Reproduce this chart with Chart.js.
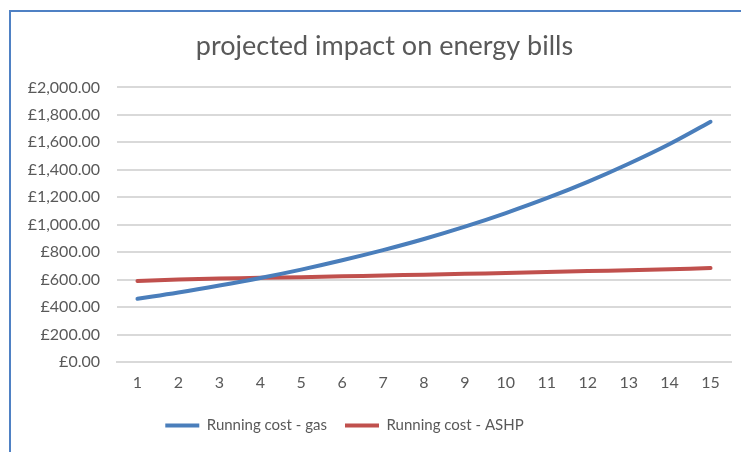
<!DOCTYPE html>
<html>
<head>
<meta charset="utf-8">
<script src="https://cdn.jsdelivr.net/npm/chart.js@4"></script>
<style>
    html, body { margin: 0; padding: 0; background: #fff; }
    #wrap { position: relative; width: 741px; height: 452px; }
    #frame { position: absolute; left: 9px; top: 10px; right: 0; bottom: 0;
             border-top: 2px solid #4f81c4; border-left: 2px solid #4f81c4; }
    #chart { position: absolute; left: 0; top: 0; }
</style>
</head>
<body>
<div id="wrap">
    <div id="frame"></div>
    <canvas id="chart" width="741" height="452"></canvas>
</div>
<script>
const years = ['1', '2', '3', '4', '5', '6', '7', '8', '9', '10', '11', '12', '13', '14', '15'];
const gasCost = [460, 506, 557, 612, 673, 741, 815, 896, 986, 1085, 1193, 1312, 1444, 1588, 1750];
const ashpCost = [590, 600, 608, 613, 618, 624, 630, 636, 642, 648, 655, 662, 668, 675, 684];
const yTicks = [0, 200, 400, 600, 800, 1000, 1200, 1400, 1600, 1800, 2000];

const textColor = '#595959';
const gridColor = '#d9d9d9';

function money(v) {
    return '£' + v.toLocaleString('en-GB', { minimumFractionDigits: 2, maximumFractionDigits: 2 });
}

// excel centres the title on the plot and pushes the legend a bit left / down
const nudgeBoxes = {
    id: 'nudgeBoxes',
    afterLayout(chart) {
        const lg = chart.legend;
        lg.left -= 27;
        lg.right -= 27;
        lg.top += 8;
        lg.bottom += 8;
        const tb = chart.titleBlock;
        tb.left += 13;
        tb.right += 13;
    }
};

const ctx = document.getElementById('chart').getContext('2d');
new Chart(ctx, {
    type: 'line',
    data: {
        labels: years,
        datasets: [
            {
                label: 'Running cost - gas',
                data: gasCost,
                borderColor: '#4a7ebb',
                backgroundColor: '#4a7ebb',
                borderWidth: 4,
                borderCapStyle: 'round',
                pointRadius: 0,
                tension: 0.4
            },
            {
                label: 'Running cost - ASHP',
                data: ashpCost,
                borderColor: '#c0504d',
                backgroundColor: '#c0504d',
                borderWidth: 4,
                borderCapStyle: 'round',
                pointRadius: 0,
                tension: 0.4
            }
        ]
    },
    plugins: [nudgeBoxes],
    options: {
        responsive: false,
        animation: false,
        layout: {
            padding: { left: 12, right: 10, top: 12, bottom: 17 }
        },
        plugins: {
            title: {
                display: true,
                text: 'projected impact on energy bills',
                color: textColor,
                font: { family: 'Lato', size: 27, weight: 'normal' },
                padding: { top: 18, bottom: 25 }
            },
            legend: {
                position: 'bottom',
                labels: {
                    color: textColor,
                    font: { family: 'Lato', size: 15 },
                    usePointStyle: true,
                    pointStyle: 'line',
                    pointStyleWidth: 34,
                    padding: 18
                }
            },
            tooltip: { enabled: false }
        },
        scales: {
            x: {
                offset: true,
                grid: { display: false, drawTicks: false },
                border: { display: true, color: gridColor, width: 2 },
                afterFit: scale => {
                    scale.height = 30;
                },
                ticks: { color: textColor, font: { family: 'Lato', size: 16 }, padding: 11, maxRotation: 0 }
            },
            y: {
                min: 0,
                max: 2000,
                afterBuildTicks: scale => {
                    scale.ticks = yTicks.map(v => ({ value: v }));
                },
                afterFit: scale => {
                    scale.width = 105;
                },
                grid: { color: gridColor, lineWidth: 2, drawTicks: false },
                border: { display: false },
                ticks: {
                    color: textColor,
                    font: { family: 'Lato', size: 16 },
                    padding: 17,
                    callback: v => money(v)
                }
            }
        }
    }
});
</script>
</body>
</html>
